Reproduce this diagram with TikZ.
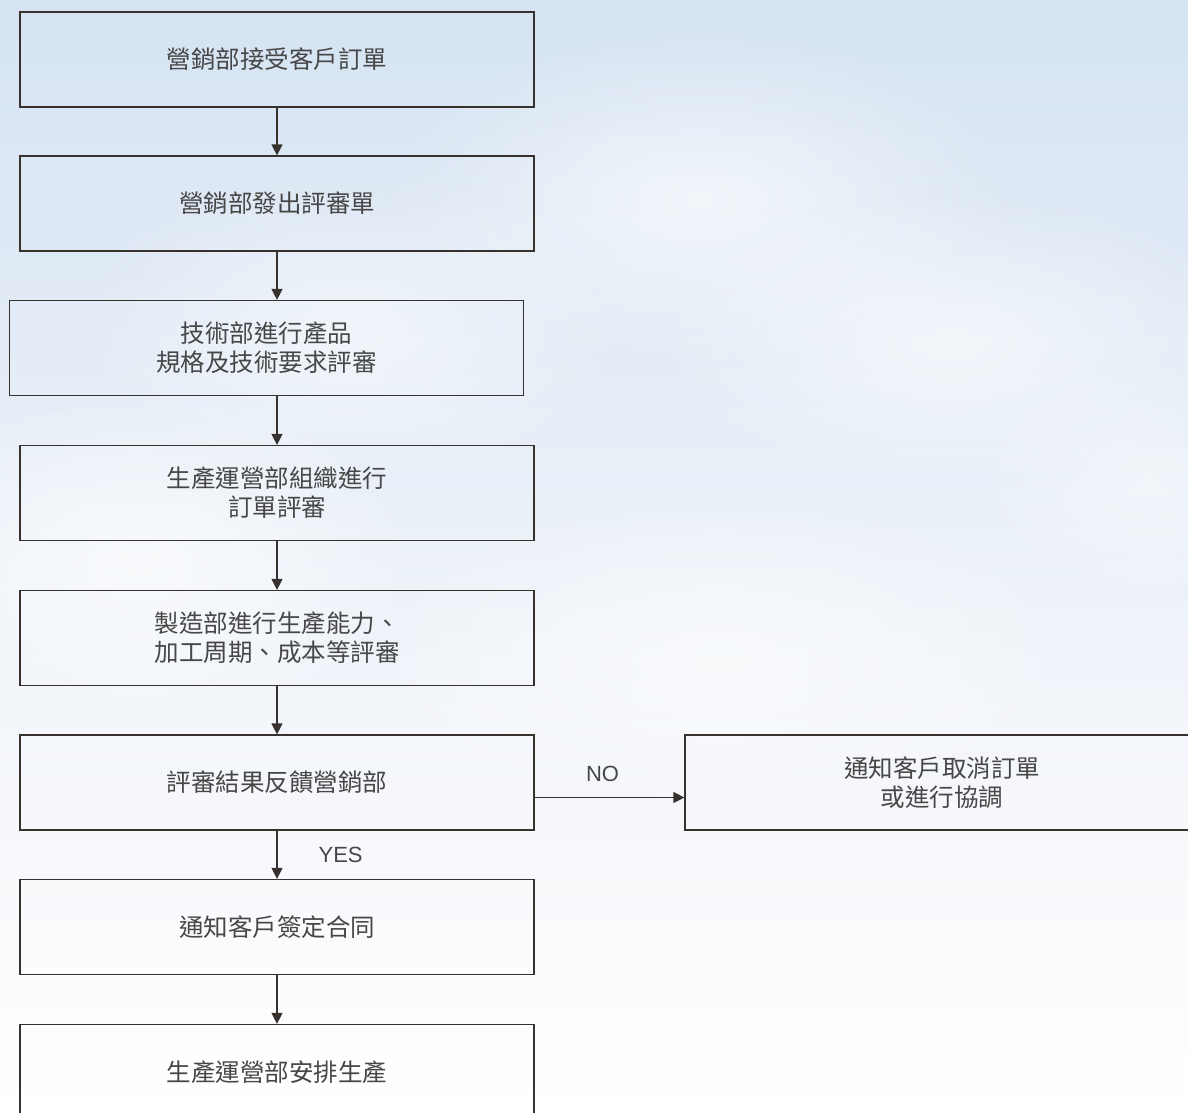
\documentclass[tikz,border=0pt]{standalone}
\usepackage{fontspec}
\setmainfont{Noto Sans CJK TC}
\newfontfamily\latinfont{Liberation Sans}
\usetikzlibrary{arrows.meta,fadings,positioning}
\definecolor{linec}{HTML}{38322F}
\definecolor{txtc}{HTML}{474747}
\definecolor{skytop}{HTML}{D5E3F2}
\definecolor{skymid}{HTML}{F8F9FC}
\tikzfading[name=cloudfade, inner color=transparent!0, outer color=transparent!100]
\begin{document}
\begin{tikzpicture}[x=1pt,y=-1pt,
  box/.style={draw=linec, line width=1.2pt, minimum width=514pt, minimum height=95pt,
    inner sep=0pt, align=center, font=\fontsize{24.5}{29}\selectfont, text=txtc},
  flow/.style={draw=linec, line width=1.2pt, -{Triangle[length=11pt,width=11pt]}},
  lbl/.style={font=\latinfont\fontsize{22}{26}\selectfont, text=txtc, inner sep=0pt},
  cloud/.style={white, path fading=cloudfade}]
\useasboundingbox (0,0) rectangle (1188,1113);
\clip (0,0) rectangle (1188,1113);
% sky background
\shade[top color=skytop, bottom color=skymid] (0,0) rectangle (1188,860);
\shade[top color=skymid, bottom color=white] (0,860) rectangle (1188,1113);
% clouds
\fill[cloud, opacity=0.6] (700,200) ellipse (320 and 170);
\fill[cloud, opacity=0.55] (950,340) ellipse (300 and 150);
\fill[cloud, opacity=0.7] (140,560) ellipse (280 and 170);
\fill[cloud, opacity=0.6] (720,660) ellipse (360 and 170);
\fill[cloud, opacity=0.4] (1150,480) ellipse (180 and 120);
\fill[cloud, opacity=0.5] (350,330) ellipse (280 and 160);
% boxes
\node[box] (b1) at (277,59.5) {營銷部接受客戶訂單};
\node[box] (b2) at (277,203.5) {營銷部發出評審單};
\node[box] (b3) at (266.5,348) {技術部進行產品\\規格及技術要求評審};
\node[box] (b4) at (277,493) {生產運營部組織進行\\訂單評審};
\node[box] (b5) at (277,638) {製造部進行生產能力、\\加工周期、成本等評審};
\node[box] (b6) at (277,782.5) {評審結果反饋營銷部};
\node[box] (b7) at (942,782.5) {通知客戶取消訂單\\或進行協調};
\node[box] (b8) at (277,927) {通知客戶簽定合同};
\node[box] (b9) at (277,1072) {生產運營部安排生產};
% connectors
\draw[flow] (b1.south) -- (b2.north);
\draw[flow] (b2.south) -- (b2.south |- b3.north);
\draw[flow] (b3.south -| b4.north) -- (b4.north);
\draw[flow] (b4.south) -- (b5.north);
\draw[flow] (b5.south) -- (b6.north);
\draw[flow] (b6.south) -- node[lbl, right=41pt] {YES} (b8.north);
\draw[flow] (b8.south) -- (b9.north);
\draw[flow] ([yshift=-15pt]b6.east) -- node[lbl, above=15pt, xshift=-7pt] {NO} ([yshift=-15pt]b7.west);
\end{tikzpicture}
\end{document}
